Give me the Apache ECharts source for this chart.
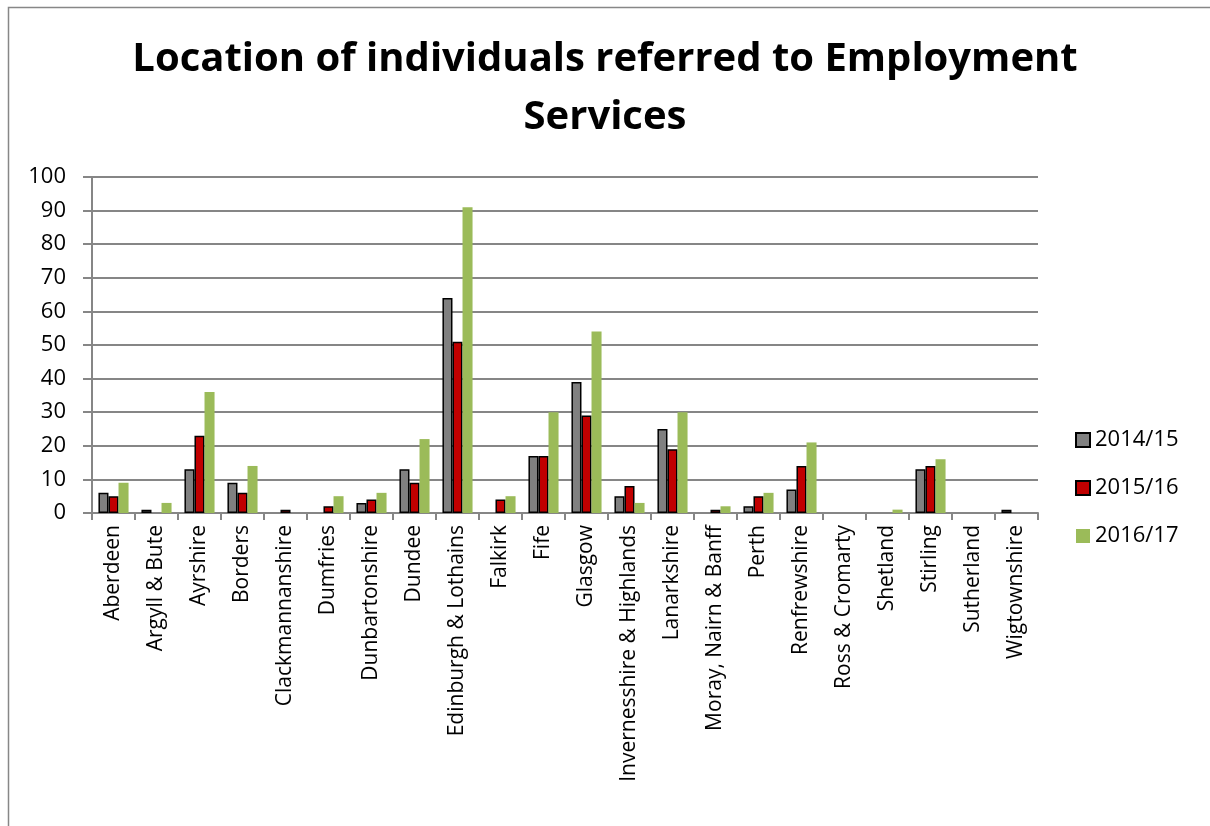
<!DOCTYPE html>
<html><head><meta charset="utf-8">
<script src="https://cdn.jsdelivr.net/npm/echarts@6/dist/echarts.min.js"></script>
<style>html,body{margin:0;padding:0;background:#fff}#c{width:1210px;height:826px}</style>
</head><body><div id="c"></div>
<script>
const categories = ["Aberdeen","Argyll & Bute","Ayrshire","Borders","Clackmannanshire","Dumfries","Dunbartonshire","Dundee","Edinburgh & Lothains","Falkirk","Fife","Glasgow","Invernesshire & Highlands","Lanarkshire","Moray, Nairn & Banff","Perth","Renfrewshire","Ross & Cromarty","Shetland","Stirling","Sutherland","Wigtownshire"];
const s2014 = [6,1,13,9,0,0,3,13,64,0,17,39,5,25,0,2,7,0,0,13,0,1];
const s2015 = [5,0,23,6,1,2,4,9,51,4,17,29,8,19,1,5,14,0,0,14,0,0];
const s2016 = [9,3,36,14,0,5,6,22,91,5,30,54,3,30,2,6,21,0,1,16,0,0];
const seriesNames = ["2014/15","2015/16","2016/17"];
const yTicks = {min:0,max:100,interval:10};

// zero values are drawn as no bar (as in the reference)
const nz = arr => arr.map(v => v === 0 ? '-' : v);

const chart = echarts.init(document.getElementById('c'));
const font = "'Open Sans', 'Liberation Sans', sans-serif";
chart.setOption({
  animation:false,
  textStyle:{fontFamily:font},
  graphic:[{type:'rect',shape:{x:8.5,y:7.5,width:1400,height:1000},style:{fill:'none',stroke:'#878787',lineWidth:1.5},silent:true}],
  title:{text:'Location of individuals referred to Employment\nServices',left:'center',top:26,
    textStyle:{fontFamily:font,fontWeight:'bold',fontSize:40,color:'#000',lineHeight:58}},
  legend:{orient:'vertical',left:1070,top:424,itemWidth:14,itemHeight:14,itemGap:26,
    textStyle:{fontFamily:font,fontSize:22,color:'#000'},
    data:seriesNames.map(n=>({name:n,icon:'rect'}))},
  grid:{left:92,top:177,width:946,height:336,containLabel:false},
  xAxis:{type:'category',data:categories,
    axisLine:{lineStyle:{color:'#868686',width:2}},
    axisTick:{show:true,interval:0,length:7,lineStyle:{color:'#868686',width:2}},
    axisLabel:{interval:0,rotate:90,fontSize:21,color:'#000',margin:12,fontFamily:font}},
  yAxis:{type:'value',min:yTicks.min,max:yTicks.max,interval:yTicks.interval,
    axisLine:{show:true,lineStyle:{color:'#868686',width:2}},
    axisTick:{show:true,length:9,lineStyle:{color:'#868686',width:2}},
    splitLine:{lineStyle:{color:'#868686',width:2}},
    axisLabel:{fontSize:22,color:'#000',margin:26,fontFamily:font}},
  series:[
    {name:seriesNames[0],type:'bar',data:nz(s2014),barGap:'0%',barCategoryGap:'30%',
      itemStyle:{color:'#808080',borderColor:'#000',borderWidth:1.5}},
    {name:seriesNames[1],type:'bar',data:nz(s2015),barGap:'0%',barCategoryGap:'30%',
      itemStyle:{color:'#C00000',borderColor:'#000',borderWidth:1.5}},
    {name:seriesNames[2],type:'bar',data:nz(s2016),barGap:'0%',barCategoryGap:'30%',
      itemStyle:{color:'#9BBB59'}}
  ]
});
</script></body></html>
